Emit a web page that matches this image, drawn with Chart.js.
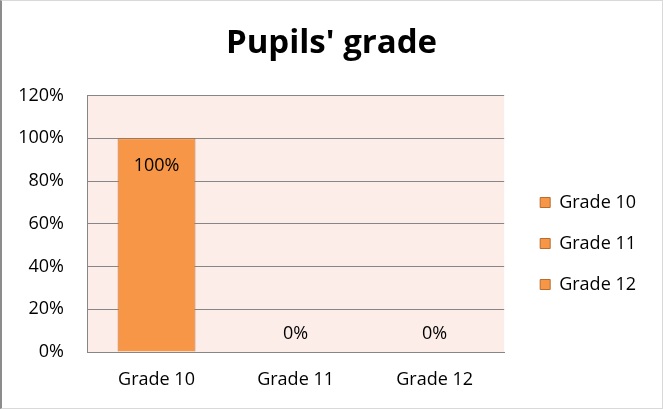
<!DOCTYPE html>
<html>
<head>
<meta charset="utf-8">
<title>Pupils' grade</title>
<script src="https://cdn.jsdelivr.net/npm/chart.js@4/dist/chart.umd.min.js"></script>
<style>
  body { margin: 0; background: #fff; }
  #wrap { position: relative; width: 663px; height: 409px; }
  #frame {
    position: absolute; left: 0; top: 0; width: 663px; height: 409px;
    box-sizing: border-box; pointer-events: none;
    border: 1px solid #d9d9d9; border-left: 2px solid #8c8c8c;
  }
</style>
</head>
<body>
<div id="wrap">
  <canvas id="pupils-grade" width="663" height="409"></canvas>
  <div id="frame"></div>
</div>
<script>
// chart data
const grades = ["Grade 10", "Grade 11", "Grade 12"];
const gradeShares = [1, 0, 0];
const yTickLabels = ["0%", "20%", "40%", "60%", "80%", "100%", "120%"];

const FONT = "'Open Sans', 'Liberation Sans', sans-serif";
const BAR_FILL = "#f79646";
const BAR_EDGE = "#b66d31";
const GRID = "#868686";

// pink plot area
const plotBackground = {
  id: "plotBackground",
  beforeDraw(chart) {
    const { ctx, chartArea } = chart;
    ctx.save();
    ctx.fillStyle = "#fdede9";
    ctx.fillRect(chartArea.left, chartArea.top, chartArea.right - chartArea.left, chartArea.bottom - chartArea.top);
    ctx.restore();
  },
};

// value labels on bars
const barValueLabels = {
  id: "barValueLabels",
  afterDatasetsDraw(chart) {
    const { ctx } = chart;
    const meta = chart.getDatasetMeta(0);
    ctx.save();
    ctx.font = "18px " + FONT;
    ctx.fillStyle = "#000";
    ctx.textAlign = "center";
    ctx.textBaseline = "middle";
    meta.data.forEach((bar, i) => {
      const v = chart.data.datasets[0].data[i];
      const tall = bar.base - bar.y > 40;
      const y = tall ? bar.y + 28 : bar.y - 18;
      ctx.fillText(Math.round(v * 100) + "%", bar.x, y);
    });
    ctx.restore();
  },
};

// put the legend a bit right of the plot and lower than centre
const legendOffset = {
  id: "legendOffset",
  afterLayout(chart) {
    const lg = chart.legend;
    const dx = chart.chartArea.right + 13 - lg.left;
    const dy = 39;
    lg.left += dx;
    lg.right += dx;
    lg.top += dy;
    lg.bottom += dy;
  },
};

const setupPupilsGradeChart = () => {
  try {
    const data = {
      labels: grades,
      datasets: [
        {
          label: "Pupils' grade",
          data: gradeShares,
          backgroundColor: BAR_FILL,
          borderColor: BAR_EDGE,
          borderWidth: 1,
          barPercentage: 0.56,
          categoryPercentage: 1,
        },
      ],
    };

    const config = {
      type: "bar",
      data,
      options: {
        responsive: false,
        devicePixelRatio: 1,
        animation: false,
        layout: { padding: 0 },
        plugins: {
          title: {
            display: true,
            text: "Pupils' grade",
            color: "#000",
            font: { family: FONT, size: 33, weight: "bold" },
            padding: { top: 24, bottom: 32 },
          },
          legend: {
            position: "right",
            maxWidth: 200,
            labels: {
              color: "#000",
              font: { family: FONT, size: 18 },
              boxWidth: 10,
              boxHeight: 10,
              padding: 23,
              generateLabels: () =>
                grades.map((g) => ({
                  text: g,
                  fillStyle: BAR_FILL,
                  strokeStyle: BAR_EDGE,
                  lineWidth: 1,
                  hidden: false,
                })),
            },
          },
          tooltip: { enabled: false },
        },
        scales: {
          x: {
            grid: { display: false, drawTicks: false },
            border: { display: true, color: GRID },
            ticks: { color: "#000", font: { family: FONT, size: 18 }, padding: 17 },
            afterFit: (s) => { s.height = 57; },
          },
          y: {
            min: 0,
            max: 1.2,
            grid: { color: GRID, drawTicks: false },
            border: { display: true, color: GRID },
            ticks: {
              stepSize: 0.2,
              color: "#000",
              font: { family: FONT, size: 18 },
              padding: 23,
              callback: (v, i) => yTickLabels[i],
            },
            afterFit: (s) => { s.width = 87; },
          },
          // empty space between plot and legend
          gap: {
            type: "linear",
            position: "right",
            display: true,
            grid: { display: false, drawTicks: false },
            border: { display: false },
            ticks: { display: false },
            afterFit: (s) => { s.width = 30; },
          },
        },
      },
      plugins: [plotBackground, barValueLabels, legendOffset],
    };

    new Chart(document.getElementById("pupils-grade"), config);
  } catch (e) {
    console.error(e);
  }
};

setupPupilsGradeChart();
</script>
</body>
</html>
